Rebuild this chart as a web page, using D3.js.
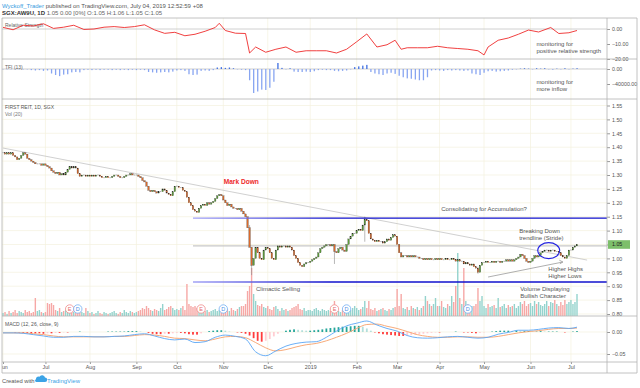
<!DOCTYPE html>
<html>
<head>
<meta charset="utf-8">
<script src="https://cdn.jsdelivr.net/npm/d3@7"></script>
<style>
  body { margin:0; background:#fff; }
  svg { display:block; font-family:"Liberation Sans", Arial, sans-serif; }
  .ax text { font-size:5.3px; fill:#555; }
  .ax line { stroke:#999; }
  .note { font-size:6px; fill:#555; }
</style>
</head>
<body>
<svg id="chart"></svg>
<script>
// daily closes, one per weekday from Fri 1 Jun 2018
var closeJun18 = [1.38,1.375,1.38,1.375,1.38,1.37,1.365,1.355,1.36,1.37,1.38,1.375,1.36,1.355,1.35,1.345,1.34,1.34,1.34,1.335,1.34]
var closeJul18 = [1.335,1.33,1.325,1.315,1.31,1.305,1.31,1.30,1.305,1.30,1.31,1.32,1.33,1.325,1.33,1.325,1.305,1.295,1.30,1.30,1.295,1.30]
var closeAug18 = [1.295,1.30,1.295,1.30,1.30,1.295,1.29,1.29,1.295,1.29,1.29,1.295,1.30,1.30,1.295,1.29,1.29,1.295,1.30,1.30,1.305,1.30,1.30]
var closeSep18 = [1.30,1.295,1.29,1.28,1.275,1.26,1.245,1.24,1.245,1.24,1.235,1.24,1.24,1.25,1.245,1.235,1.23,1.225,1.24,1.26]
var closeOct18 = [1.26,1.255,1.255,1.245,1.24,1.22,1.20,1.19,1.175,1.17,1.165,1.18,1.19,1.195,1.19,1.20,1.195,1.20,1.205,1.215,1.225,1.23,1.225]
var closeNov18 = [1.21,1.20,1.19,1.195,1.185,1.18,1.18,1.175,1.18,1.17,1.16,1.15,1.11,1.04,0.975,1.00,1.04,1.02,1.00,0.995,1.03,1.04]
var closeDec18 = [1.035,1.02,1.00,0.995,1.03,1.045,1.04,1.045,1.045,1.04,1.045,1.04,1.03,1.01,1.00,0.985,0.975,0.97,0.98,0.985,0.985]
var closeJan19 = [0.99,0.995,1.00,1.005,1.02,1.035,1.04,1.045,1.05,1.05,1.045,1.05,1.025,1.02,1.035,1.04,1.03,1.025,1.05,1.07,1.08,1.09,1.09]
var closeFeb19 = [1.10,1.105,1.10,1.12,1.14,1.135,1.09,1.07,1.065,1.06,1.065,1.06,1.06,1.055,1.06,1.07,1.065,1.075,1.085,1.08]
var closeMar19 = [1.05,1.02,1.005,1.01,1.01,1.005,1.01,1.005,1.01,1.005,1.005,1.00,1.00,0.995,1.00,0.995,1.00,0.995,0.995,1.00,0.995]
var closeApr19 = [1.00,0.995,0.995,1.00,0.995,0.995,1.00,0.995,0.99,0.995,0.99,0.99,0.98,0.985,0.98,0.975,0.98,0.97,0.965,0.95,0.975,0.985]
var closeMay19 = [0.985,0.99,0.985,0.985,0.99,0.985,0.99,0.99,0.985,0.99,0.99,0.995,0.99,0.995,0.99,0.995,1.00,1.005,1.015,1.01,1.00,0.99,0.985]
var closeJun19 = [0.99,1.00,1.01,1.005,1.01,1.02,1.025,1.03,1.03,1.025,1.03,1.03,1.025,1.025,1.02,1.01,1.005,1.00,1.01,1.03]
var closeJul19 = [1.03,1.04,1.045,1.05]

var closes = closeJun18.concat(closeJul18, closeAug18, closeSep18, closeOct18, closeNov18,
  closeDec18, closeJan19, closeFeb19, closeMar19, closeApr19, closeMay19, closeJun19, closeJul19)

// a few long wicks that stand out
var wickIdx = [122,123,164,179,235]
var wickLow = [1.04,0.94,0.98,1.06,0.945]
var wickHigh = [1.12,1.04,1.05,1.15,0.97]

// daily volume (relative units)
var volume = [
  3,4,2,5,3,4,6,3,5,4,3,6,4,5,3,4,18,5,6,4,3,                 // jun
  4,13,12,13,11,6,5,8,4,5,6,4,3,5,4,3,5,6,4,3,8,5,            // jul
  3,4,2,3,5,3,2,4,3,2,3,4,5,3,2,4,3,6,4,3,5,4,3,              // aug
  4,5,6,8,7,10,8,6,5,7,6,5,8,12,6,7,9,10,8,6,                 // sep
  7,6,8,10,6,32,12,10,9,10,8,5,6,4,5,6,4,5,6,7,5,6,5,         // oct
  6,5,7,5,8,6,5,7,9,10,10,12,25,30,48,22,15,11,10,12,9,8,     // nov
  10,7,6,9,10,7,5,8,6,7,5,6,8,9,10,12,7,6,8,5,6,              // dec
  6,5,7,8,6,5,7,6,5,6,5,8,15,6,5,4,6,7,8,7,6,8,10,            // jan
  8,6,7,9,15,8,15,7,6,8,5,6,7,8,6,5,7,6,8,9,                  // feb
  27,10,22,8,7,9,6,10,8,7,9,6,8,10,20,15,12,10,12,18,10,      // mar
  10,15,9,8,12,10,20,14,30,63,18,12,48,15,12,8,10,10,12,28,15,20, // apr
  10,8,12,9,10,11,8,18,9,10,12,8,11,9,10,12,8,10,14,12,15,10,12,  // may
  13,10,15,12,14,11,10,12,15,10,14,13,16,12,10,14,11,16,12,14,    // jun
  16,12,14,22                                                      // jul
]

// relative strength line
var rsIdx = [0,5,10,15,20,25,30,35,40,45,50,55,60,65,70,75,80,85,90,95,100,105,107,110,115,120,122,125,130,135,
  140,145,150,155,160,165,170,175,180,185,190,194,197,200,205,210,215,220,225,230,235,238,240,245,250,255,260,265,271,275,280,284]
var rsVal = [1.1,-0.5,2.5,2.0,3.5,0.4,1.2,2.5,-0.3,0,1.2,1.6,1.0,1.6,2.8,-0.6,-2.9,-2.2,-4.5,-3.5,
  -1.5,1.0,3.8,-1.0,-2.8,-3.0,-16,-12,-15.5,-13.5,-12,-15.5,-14.5,-14.5,-14.5,-16,-13.5,-8.5,-3.3,-12,
  -10.5,-7.5,-13.5,-12.5,-12.5,-12.5,-11.5,-12.5,-13,-13.5,-14.5,-17.3,-12,-7.5,-6,-3.5,-0.7,-2,1,-3,-2.5,-1]

// TFI(13), one value every 2 bars, thousands
var tfi = [
  -1,-1,-1,-1,-1,-1,-1, -3,-4,-3,-5,-4, -12,-16,-19,-15,-14, -9,-8,-9,
  -3,-2,-3,-2,-3,-2,-2,-3,-2,-3,-2,-3,-2,-3,-2,-3,
  -8,-9,-10,-9,-8,-9,-7, -4,-3,-5, -14,-16,-15, -5,-4,-5,-3, 4,5,3,4,2, -1,-2,-3,
  -30,-64,-60,-55,-56,-50,-34, 16, 3,-1,2, -7,-8,-8,-7,-8,-6, -3,-2,-3,-3, -5,-6,-5,-4, -1,
  5,7,9,11, -8,-12,-14,-16,-12,-10, -13,-18,-22,-25,-26,-28,-30,-30,-22,
  -4,-3,-4,-5,-3,-4,-3,-4,-5,-4, -12,-14,-16,-10, -6,-5,-7,-6,-5,-4,
  -2,-1,1,2,1,-1,2,1,2,-1,-2,1,-1,2,-1,1,2
]

// MACD (12, 26, close, 9): lines every 5 bars plus the last bar
var macdIdx = d3.range(0, 281, 5).concat([284])
var macdLine = [-0.002,-0.002,-0.003,-0.006,-0.009,-0.012,-0.012,-0.010,-0.010,-0.011,-0.011,-0.010,-0.009,-0.006,-0.004,
  -0.009,-0.015,-0.018,-0.016,-0.024,-0.022,-0.012,-0.007,-0.010,-0.016,-0.045,-0.054,-0.043,-0.032,-0.026,
  -0.023,-0.022,-0.012,0.002,0.014,0.020,0.025,0.016,0.008,0.002,-0.008,-0.013,-0.014,-0.013,-0.011,
  -0.010,-0.012,-0.014,-0.012,-0.005,-0.001,0.004,0.004,0.006,0.009,0.010,0.008,0.011]
var signalLine = [-0.002,-0.002,-0.002,-0.004,-0.006,-0.009,-0.011,-0.011,-0.011,-0.011,-0.011,-0.010,-0.010,-0.008,-0.006,
  -0.007,-0.010,-0.014,-0.015,-0.018,-0.020,-0.016,-0.011,-0.010,-0.013,-0.024,-0.036,-0.043,-0.040,-0.034,
  -0.029,-0.026,-0.020,-0.012,-0.003,0.008,0.017,0.018,0.013,0.008,0.001,-0.006,-0.010,-0.012,-0.012,
  -0.011,-0.011,-0.012,-0.012,-0.010,-0.006,-0.002,0.001,0.003,0.006,0.008,0.008,0.009]
// histogram, one value every 2 bars, thousandths
var macdHist = [
  0,0,0,-1,-1,-2,-2, -3,-3,-3,-4,-3,-3,-2,-2, -1,-1,0,0,1,0,0,0, 0,0,0,1,1,1,1,1,2,2,2,
  1,0,-2,-4,-5,-5,-4,-4, -3,-2,-2,-3,-5,-6,-6, -3,0,2,3,4,4, 3,1,0,-1,-2,-4,
  -8,-14,-20,-22,-20,-16,-10, -4,0,3,5,6,5,4,3, 3,4,5,6,8,9, 10,11,12,12,13,14,14,12,
  8,3,-1,-3,-5,-6, -7,-8,-9,-9,-8,-7,-6,-5, -4,-3,-2,-1,-1,0,0,0, 1,0,-1,-1,-2,-3,-2,-1,0,
  1,2,3,3,3,2,3,2, 2,2,1,1,2,1,1,1, 1,0,-1,0,1,2
]

var priceTicks = [0.80,0.85,0.90,0.95,1.00,1.05,1.10,1.15,1.20,1.25,1.30,1.35,1.40,1.45,1.50,1.55]
var rsTicks = [0,-10,-20]
var tfiTicks = [0,-40000]
var macdTicks = [0,-0.05]

// earnings / dividend flags
var eventIdx = [33,37,98,109,164,170,230]
var eventType = ["E","D","E","D","E","D","D"]

// drawn levels and lines
var resistance = 1.145, support = 0.915, midLevel = 1.045, levelStart = 94
var trendLine = [{i:0,p:1.397},{i:289,p:0.994}]
var risingLine = [{i:240,p:0.933},{i:277,p:0.987}]
var breakout = {i:270,p:1.028}

// ---- setup ----
var svg = d3.select("#chart").attr("width",640).attr("height",388)
var L = 2, R = 607, RE = 637
var panes = {rs:[18,59], tfi:[59,99], main:[99,316], macd:[316,362], time:[362,373]}

var x = d3.scaleLinear().domain([0, closes.length-1]).range([3,577])
var yP = d3.scaleLinear().domain([0.80,1.55]).range([314,105.5])
var yV = d3.scaleLinear().domain([0,100]).range([316,216])
var yRS = d3.scaleLinear().domain([-10,0]).range([44,29])
var yT = d3.scaleLinear().domain([-40000,0]).range([84,69])
var yM = d3.scaleLinear().domain([-0.05,0]).range([354,332])

var dates = []
var day = new Date(2018,5,1)
while (dates.length < closes.length) {
  if (day.getDay()!=0 && day.getDay()!=6) dates.push(new Date(day))
  day.setDate(day.getDate()+1)
}
var monthTicks = d3.range(dates.length).filter(function(i){
  return i==0 || dates[i].getMonth()!=dates[i-1].getMonth()
})
var monthLabel = function(i){
  return dates[i].getMonth()==0 ? d3.timeFormat("%Y")(dates[i]) : d3.timeFormat("%b")(dates[i])
}

var defs = svg.append("defs")
Object.keys(panes).forEach(function(k){
  defs.append("clipPath").attr("id","clip-"+k).append("rect")
    .attr("x",L).attr("y",panes[k][0]).attr("width",R-L).attr("height",panes[k][1]-panes[k][0])
})
var grad = defs.append("linearGradient").attr("id","lvl").attr("gradientUnits","userSpaceOnUse")
  .attr("x1",x(levelStart)).attr("x2",330).attr("y1",0).attr("y2",0)
grad.append("stop").attr("offset",0).attr("stop-color","#a3a3f5")
grad.append("stop").attr("offset",1).attr("stop-color","#1111cc")

var pane = function(k){ return svg.append("g").attr("clip-path","url(#clip-"+k+")") }

// grid
var grid = svg.append("g").attr("stroke","#f4f0de").attr("stroke-width",0.7)
;["rs","tfi","main","macd"].forEach(function(k){
  grid.selectAll(null).data(monthTicks).enter().append("line")
    .attr("x1",function(i){return x(i)}).attr("x2",function(i){return x(i)})
    .attr("y1",panes[k][0]).attr("y2",panes[k][1])
})
grid.selectAll(null).data(priceTicks).enter().append("line")
  .attr("x1",L).attr("x2",R).attr("y1",function(p){return yP(p)}).attr("y2",function(p){return yP(p)})
grid.selectAll(null).data(macdTicks).enter().append("line")
  .attr("x1",L).attr("x2",R).attr("y1",function(p){return yM(p)}).attr("y2",function(p){return yM(p)})

// ---- relative strength ----
var rsG = pane("rs")
rsG.append("line").attr("x1",L).attr("x2",R).attr("y1",yRS(0)).attr("y2",yRS(0))
  .attr("stroke","#c4c4c4").attr("stroke-width",0.8)
rsG.append("text").attr("x",5).attr("y",26.5).attr("font-size",5).attr("fill","#666").text("Relative Strength")
rsG.append("path")
  .attr("d", d3.line().x(function(d,k){return x(rsIdx[k])}).y(function(d){return yRS(d)})(rsVal))
  .attr("fill","none").attr("stroke","#ee2a2a").attr("stroke-width",0.9)
rsG.selectAll(null).data(["monitoring for","positive relative strength"]).enter().append("text")
  .attr("class","note").attr("font-size",6.5)
  .attr("x",x(263.9)).attr("y",function(d,k){return yRS(-11.3 - k*4.67)}).text(function(d){return d})

// ---- TFI ----
var tG = pane("tfi")
tG.append("line").attr("x1",L).attr("x2",R).attr("y1",yT(0)).attr("y2",yT(0))
  .attr("stroke","#cfcfcf").attr("stroke-width",1.2)
tG.append("text").attr("x",5).attr("y",68.5).attr("font-size",5).attr("fill","#666").text("TFI (13)")
tG.selectAll("rect").data(tfi).enter().append("rect")
  .attr("x",function(d,k){return x(k*2)-0.6}).attr("width",1.3)
  .attr("y",function(d){return yT(Math.max(0,d*1000))})
  .attr("height",function(d){return Math.abs(yT(d*1000)-yT(0))})
  .attr("fill",function(d){return d>0 ? "#3f6fe2" : "#88a5f1"})
tG.selectAll(null).data(["monitoring for","more inflow"]).enter().append("text")
  .attr("class","note").attr("font-size",6.5)
  .attr("x",x(263.9)).attr("y",function(d,k){return yT(-40000 - k*18700)}).text(function(d){return d})

// ---- main price pane ----
var mG = pane("main")
mG.append("text").attr("x",5).attr("y",108.5).attr("font-size",5).attr("fill","#555").text("FIRST REIT, 1D, SGX")
mG.append("text").attr("x",5).attr("y",115.5).attr("font-size",5).attr("fill","#777").text("Vol (20)")

var opens = closes.map(function(c,i){ return i==0 ? c : closes[i-1] })

mG.selectAll(".vol").data(volume).enter().append("rect").attr("class","vol")
  .attr("x",function(d,i){return x(i)-0.7}).attr("width",1.4)
  .attr("y",function(d){return yV(d)}).attr("height",function(d){return yV(0)-yV(d)})
  .attr("fill",function(d,i){return closes[i]>=opens[i] ? "#94d3cd" : "#f6a8a6"})

// lines under candles
var lvl = function(p, col, w){
  mG.append("line").attr("x1",x(levelStart)).attr("x2",R).attr("y1",yP(p)).attr("y2",yP(p))
    .attr("stroke",col).attr("stroke-width",w)
}
lvl(midLevel,"#c8c8c8",1.2)
mG.append("line").attr("x1",x(trendLine[0].i)).attr("y1",yP(trendLine[0].p))
  .attr("x2",x(trendLine[1].i)).attr("y2",yP(trendLine[1].p)).attr("stroke","#c4c4c4").attr("stroke-width",0.8)

mG.selectAll(".wick").data(wickIdx).enter().append("line").attr("class","wick")
  .attr("x1",function(i){return x(i)}).attr("x2",function(i){return x(i)})
  .attr("y1",function(i,k){return yP(wickHigh[k])}).attr("y2",function(i,k){return yP(wickLow[k])})
  .attr("stroke","#888").attr("stroke-width",0.6)

mG.selectAll(".candle").data(closes).enter().append("rect").attr("class","candle")
  .attr("x",function(c,i){return x(i)-0.75}).attr("width",1.5)
  .attr("y",function(c,i){return Math.min(yP(c),yP(opens[i]))-(c==opens[i] ? 0.35 : 0)})
  .attr("height",function(c,i){return Math.max(0.7, Math.abs(yP(c)-yP(opens[i])))})
  .attr("fill",function(c,i){return c>opens[i] ? "#5d9c3a" : (c<opens[i] ? "#dc6a2a" : "#8a8a8a")})
  .attr("stroke",function(c,i){return c==opens[i] ? "none" : "#2a2a2a"}).attr("stroke-width",0.25)

lvl(resistance,"url(#lvl)",1.4)
lvl(support,"url(#lvl)",1.4)

mG.append("line").attr("x1",x(risingLine[0].i)).attr("y1",yP(risingLine[0].p))
  .attr("x2",x(risingLine[1].i)).attr("y2",yP(risingLine[1].p)).attr("stroke","#9a9a9a").attr("stroke-width",0.8)
var ax = x(risingLine[1].i), ay = yP(risingLine[1].p)
mG.append("path").attr("d","M"+(ax-3.5)+","+(ay-1.8)+"L"+ax+","+ay+"L"+(ax-3)+","+(ay+1.8))
  .attr("fill","none").attr("stroke","#9a9a9a").attr("stroke-width",0.8)

mG.append("ellipse").attr("cx",x(breakout.i)).attr("cy",yP(breakout.p)).attr("rx",11).attr("ry",8)
  .attr("fill","none").attr("stroke","#2424e0").attr("stroke-width",1.1)

// event flags
var ev = mG.selectAll(".ev").data(eventIdx).enter().append("g").attr("class","ev")
  .attr("transform",function(i){return "translate("+x(i)+",309)"})
ev.append("circle").attr("r",4.2).attr("fill","#fff")
  .attr("stroke",function(i,k){return eventType[k]=="E" ? "#f08a8a" : "#72aef2"}).attr("stroke-width",0.8)
ev.append("text").attr("text-anchor","middle").attr("y",2).attr("font-size",5.5)
  .attr("fill",function(i,k){return eventType[k]=="E" ? "#e56a6a" : "#4a90e8"})
  .text(function(i,k){return eventType[k]})

// annotations
mG.append("text").attr("x",x(109.2)).attr("y",yP(1.269)).attr("font-size",6.6).attr("font-weight","bold")
  .attr("fill","#ee2a2a").text("Mark Down")
var note = function(i, p, lines){
  mG.selectAll(null).data(lines).enter().append("text").attr("class","note")
    .attr("x",x(i)).attr("y",function(d,k){return yP(p) + k*7}).text(function(d){return d})
}
note(216.8, 1.169, ["Consolidating for Accumulation?"])
note(255.4, 1.090, ["Breaking Down","trendline (Stride)"])
note(269.8, 0.955, ["Higher Highs","Higher Lows"])
note(125.2, 0.883, ["Climactic Selling"])
note(255.9, 0.883, ["Volume Displaying","Bullish Character"])

// ---- MACD ----
var macG = pane("macd")
macG.append("text").attr("x",5).attr("y",325.5).attr("font-size",5).attr("fill","#555").text("MACD (12, 26, close, 9)")
macG.selectAll("rect").data(macdHist).enter().append("rect")
  .attr("x",function(d,k){return x(k*2)-0.9}).attr("width",1.8)
  .attr("y",function(d){return yM(Math.max(0,d/1000))})
  .attr("height",function(d){return Math.abs(yM(d/1000)-yM(0))})
  .attr("fill",function(d,k){
    var prev = k>0 ? macdHist[k-1] : 0
    if (d>=0) return d>=prev ? "#26a69a" : "#b2dfdb"
    return d<=prev ? "#ff3b3b" : "#ffcdd2"
  })
var mline = d3.line().x(function(d,k){return x(macdIdx[k])}).y(function(d){return yM(d)}).curve(d3.curveMonotoneX)
macG.append("path").attr("d",mline(signalLine)).attr("fill","none").attr("stroke","#f6a06a").attr("stroke-width",0.9)
macG.append("path").attr("d",mline(macdLine)).attr("fill","none").attr("stroke","#5aa6f5").attr("stroke-width",0.9)

// ---- axes ----
var rAxis = function(scale, ticks){
  var g = svg.append("g").attr("class","ax").attr("transform","translate("+R+",0)")
    .call(d3.axisRight(scale).tickValues(ticks).tickFormat(d3.format(".2f")).tickSize(3).tickPadding(2))
  g.select(".domain").remove()
  return g
}
rAxis(yRS, rsTicks)
rAxis(yT, tfiTicks)
rAxis(yP, priceTicks)
rAxis(yM, macdTicks)

var lastY = yP(closes[closes.length-1])
svg.append("rect").attr("x",R+1).attr("y",lastY-4.3).attr("width",22).attr("height",8.6).attr("fill","#7dbf6b")
svg.append("text").attr("x",R+5).attr("y",lastY+1.9).attr("font-size",5.3).attr("fill","#1e1e1e")
  .text(d3.format(".2f")(closes[closes.length-1]))

var tg = pane("time").append("g").attr("class","ax").attr("transform","translate(0,362)")
  .call(d3.axisBottom(x).tickValues(monthTicks).tickFormat(monthLabel).tickSize(2).tickPadding(1.5))
tg.select(".domain").remove()

// borders
var border = svg.append("g").attr("stroke","#b3b3b3").attr("stroke-width",0.8)
;[18,59,99,316,362,373].forEach(function(yy){
  border.append("line").attr("x1",L).attr("x2",RE).attr("y1",yy).attr("y2",yy)
})
;[L,R,RE].forEach(function(xx){
  border.append("line").attr("x1",xx).attr("x2",xx).attr("y1",18).attr("y2",373)
})

// header and footer
var h1 = svg.append("text").attr("x",2).attr("y",7.5).attr("font-size",6)
h1.append("tspan").attr("fill","#3a9be0").text("Wyckoff_Trader")
h1.append("tspan").attr("fill","#555").text(" published on TradingView.com, July 04, 2019 12:52:59 +08")
var h2 = svg.append("text").attr("x",2).attr("y",15).attr("font-size",6)
h2.append("tspan").attr("fill","#333").attr("font-weight","bold").text("SGX:AW9U, 1D")
h2.append("tspan").attr("fill","#666").text(" 1.05 0.00 [0%] O:1.05 H:1.06 L:1.05 C:1.05")

svg.append("text").attr("x",2).attr("y",382.5).attr("font-size",5.8).attr("fill","#555").text("Created with")
svg.append("path")
  .attr("d","M36,382 h9 a2.2,2.2 0 0 0 0,-4.4 a3,3 0 0 0 -5.6,-0.8 a2.3,2.3 0 0 0 -3.4,2.4 a1.5,1.5 0 0 0 0,2.8 z")
  .attr("fill","#3ba3e6")
svg.append("text").attr("x",47).attr("y",382.5).attr("font-size",6).attr("fill","#3ba3e6").text("TradingView")
</script>
</body>
</html>
